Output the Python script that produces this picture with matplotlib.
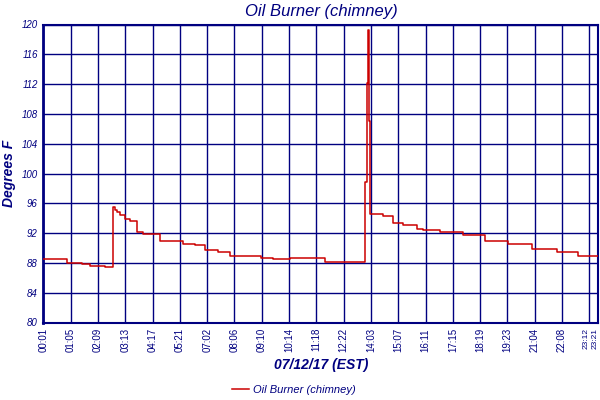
import matplotlib
matplotlib.use("Agg")
import matplotlib.pyplot as plt
import matplotlib.transforms as mtransforms

# Dados (índice da amostra, temperatura em F) - degraus
amostra = [0, 55, 91, 109, 145, 164, 168, 172, 180, 192, 203, 219, 220, 234, 274,
           328, 356, 379, 410, 438, 510, 539, 578, 660, 753, 755, 758, 761, 764, 766,
           796, 819, 843, 875, 890, 930, 984, 1035, 1089, 1145, 1203, 1253, 1301]
temperatura = [88.5, 88.05, 87.9, 87.6, 87.5, 95.5, 95.1, 94.85, 94.4, 93.9, 93.6, 93.3,
               92.1, 91.9, 90.95, 90.5, 90.4, 89.7, 89.5, 88.95, 88.6, 88.5, 88.6, 88.1,
               90.4, 98.8, 112.2, 119.3, 107.0, 94.5, 94.3, 93.3, 93.1, 92.6, 92.4, 92.1,
               91.75, 91.0, 90.6, 89.8, 89.4, 88.9, 88.9]

pos_ticks = [0, 64, 128, 192, 256, 320, 384, 448, 512, 576, 640, 704, 768, 832,
             896, 960, 1024, 1088, 1152, 1216, 1280, 1301]
rotulos = ["00:01", "01:05", "02:09", "03:13", "04:17", "05:21", "07:02", "08:06",
           "09:10", "10:14", "11:18", "12:22", "14:03", "15:07", "16:11", "17:15",
           "18:19", "19:23", "21:04", "22:08", "23:12", "23:21"]
y_ticks = [80, 84, 88, 92, 96, 100, 104, 108, 112, 116, 120]

azul = "#000080"
vermelho = "#cc0000"
fonte = "Liberation Sans"

fig = plt.figure(figsize=(6, 4), dpi=100)
ax = fig.add_axes([0.0722, 0.19375, 0.925, 0.745])

ax.plot(amostra, temperatura, color=vermelho, linewidth=1.1,
        drawstyle="steps-post", label="Oil Burner (chimney)", zorder=3)

ax.set_xlim(0, 1301)
ax.set_ylim(80, 120)
ax.set_xticks(pos_ticks)
ax.set_xticklabels(rotulos, rotation=90, fontsize=7, color=azul, family=fonte)
ax.set_yticks(y_ticks)
ax.set_yticklabels([str(v) for v in y_ticks], fontsize=7, color=azul,
                   family=fonte, style="italic")
ax.tick_params(length=0, pad=4)

# os dois ultimos rotulos ficam colados na borda direita
for lbl, dx in zip(ax.get_xticklabels()[-2:], [-3.5, -3.0]):
    lbl.set_fontsize(6)
    lbl.set_transform(lbl.get_transform() +
                      mtransforms.ScaledTranslation(dx / 100, 0, fig.dpi_scale_trans))

ax.grid(True, color=azul, linewidth=1.0)
for lado in ["left", "bottom", "right", "top"]:
    ax.spines[lado].set_color(azul)
    ax.spines[lado].set_linewidth(1.5)
ax.spines["left"].set_linewidth(2.0)

ax.set_title("Oil Burner (chimney)", fontsize=12, color=azul, family=fonte,
             style="italic", pad=6)
ax.set_ylabel("Degrees F", fontsize=10, color=azul, family=fonte,
              style="italic", fontweight="bold", labelpad=4)
ax.set_xlabel("07/12/17 (EST)", fontsize=10, color=azul, family=fonte,
              style="italic", fontweight="bold", labelpad=4)

fig.legend(loc="center", bbox_to_anchor=(0.49, 0.025), frameon=False,
           handlelength=1.5, handletextpad=0.4, labelcolor=azul,
           prop={"family": fonte, "style": "italic", "size": 8})

plt.savefig("out.png", dpi=100)
